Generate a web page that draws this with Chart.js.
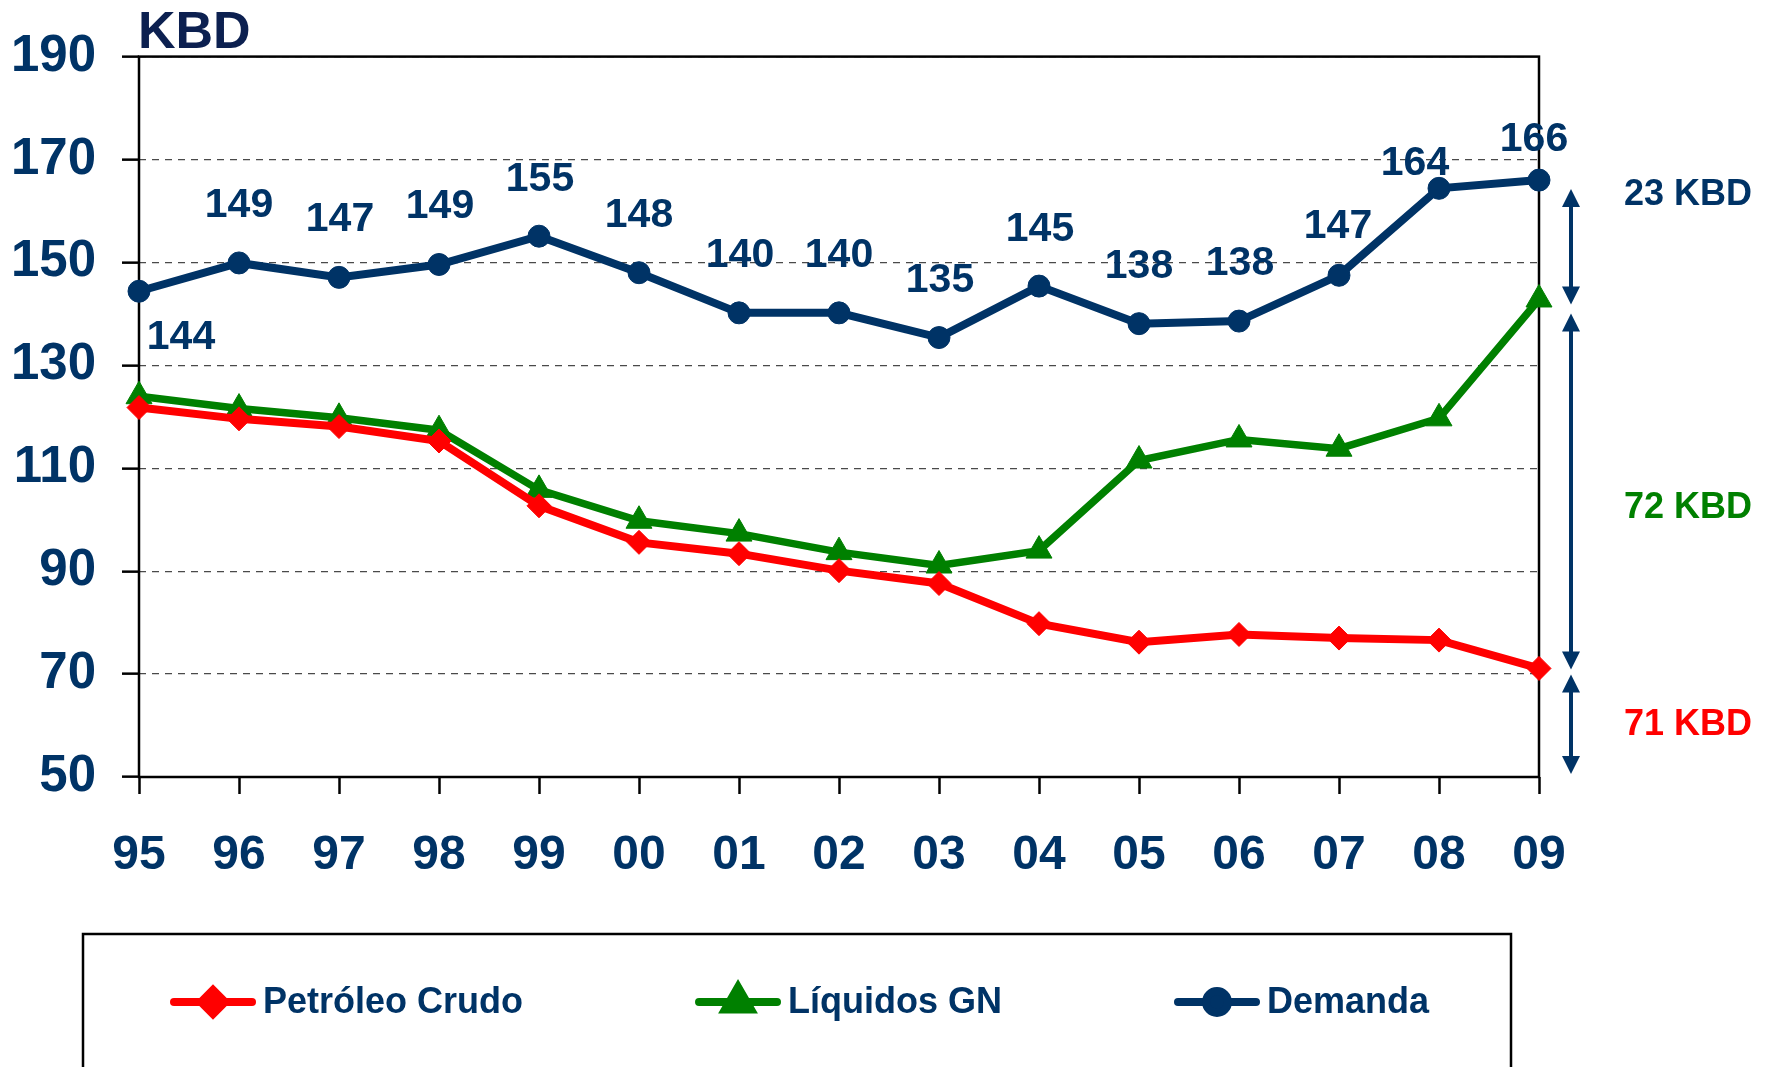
<!DOCTYPE html>
<html>
<head>
<meta charset="utf-8">
<title>KBD</title>
<script src="https://cdn.jsdelivr.net/npm/chart.js@4.4.0/dist/chart.umd.min.js"></script>
<style>
  html, body { margin: 0; padding: 0; background: #fff; }
  canvas { display: block; }
</style>
</head>
<body>
<canvas id="lineChart" width="1777" height="1067"></canvas>
<script>
// data
const years = ['95', '96', '97', '98', '99', '00', '01', '02', '03', '04', '05', '06', '07', '08', '09'];
const crudo = [121.8, 119.6, 118.1, 115.3, 102.7, 95.6, 93.4, 90.1, 87.6, 79.8, 76.2, 77.7, 77.0, 76.6, 71.1];
const liquidos = [124.0, 121.6, 119.8, 117.4, 105.8, 99.8, 97.3, 93.7, 91.1, 94.0, 111.5, 115.6, 113.8, 119.7, 142.8];
const demanda = [144.4, 149.9, 147.1, 149.6, 155.1, 148.0, 140.2, 140.2, 135.4, 145.4, 138.1, 138.6, 147.5, 164.4, 166.0];
const yTicks = [50, 70, 90, 110, 130, 150, 170, 190];
const kbdNotes = ['23 KBD', '72 KBD', '71 KBD'];

const navy = '#003366';
const fam = '"Liberation Sans", Arial, sans-serif';

// where each demand label sits relative to its point
const labelOffsets = [[42, 44], [0, -60], [1, -60], [1, -60], [1, -59], [0, -60], [1, -60], [0, -60],
  [1, -60], [1, -59], [0, -60], [1, -60], [-1, -51], [-24, -27], [-5, -43]];
const noteColors = [navy, '#008000', '#ff0000'];
const noteBaselines = [161.1, 100.4, 58.1];
const arrowPad = [[9, 5], [14, 1], [6, -3]];

function doubleArrow(ctx, x, y1, y2) {
  const head = 18, hw = 9;
  ctx.beginPath();
  ctx.moveTo(x, y1 + head - 2);
  ctx.lineTo(x, y2 - head + 2);
  ctx.stroke();
  ctx.beginPath();
  ctx.moveTo(x, y1); ctx.lineTo(x - hw, y1 + head); ctx.lineTo(x + hw, y1 + head);
  ctx.closePath(); ctx.fill();
  ctx.beginPath();
  ctx.moveTo(x, y2); ctx.lineTo(x - hw, y2 - head); ctx.lineTo(x + hw, y2 - head);
  ctx.closePath(); ctx.fill();
}

const extras = {
  id: 'extras',
  beforeDatasetsDraw(chart) {
    const { ctx, chartArea: a } = chart;
    ctx.save();
    ctx.strokeStyle = '#000';
    ctx.lineWidth = 2.5;
    ctx.strokeRect(a.left, a.top, a.right - a.left, a.bottom - a.top);
    ctx.restore();
  },
  afterDatasetsDraw(chart) {
    const { ctx, chartArea: a, scales } = chart;
    const y = scales.y;
    ctx.save();

    // unit title
    ctx.font = 'bold 52px ' + fam;
    ctx.fillStyle = '#0c2050';
    ctx.textAlign = 'left';
    ctx.textBaseline = 'alphabetic';
    ctx.fillText('KBD', a.left - 1, 48);

    // demand value labels
    ctx.font = 'bold 41px ' + fam;
    ctx.fillStyle = navy;
    ctx.textAlign = 'center';
    chart.getDatasetMeta(2).data.forEach((pt, i) => {
      const off = labelOffsets[i];
      ctx.fillText(String(Math.floor(demanda[i])), pt.x + off[0], pt.y + off[1] + 14);
    });

    // arrows on the right
    const last = years.length - 1;
    const spans = [[demanda[last], liquidos[last]], [liquidos[last], crudo[last]], [crudo[last], 50]];
    const ax = a.right + 32;
    ctx.strokeStyle = navy;
    ctx.fillStyle = navy;
    ctx.lineWidth = 4;
    spans.forEach((s, i) => {
      doubleArrow(ctx, ax, y.getPixelForValue(s[0]) + arrowPad[i][0], y.getPixelForValue(s[1]) + arrowPad[i][1]);
    });
    ctx.font = 'bold 36px ' + fam;
    ctx.textAlign = 'left';
    kbdNotes.forEach((t, i) => {
      ctx.fillStyle = noteColors[i];
      ctx.fillText(t, 1624, y.getPixelForValue(noteBaselines[i]));
    });

    // legend box
    ctx.strokeStyle = '#000';
    ctx.lineWidth = 2.5;
    ctx.strokeRect(83, 934, 1511 - 83, 200);
    let lx = 170;
    const ly = 1002;
    ctx.font = 'bold 36px ' + fam;
    chart.data.datasets.forEach(ds => {
      ctx.strokeStyle = ds.borderColor;
      ctx.fillStyle = ds.backgroundColor;
      ctx.lineWidth = 8;
      ctx.lineCap = 'round';
      ctx.beginPath();
      ctx.moveTo(lx + 4, ly);
      ctx.lineTo(lx + 82, ly);
      ctx.stroke();
      Chart.helpers.drawPoint(ctx, { pointStyle: ds.pointStyle, radius: ds.pointRadius, borderWidth: 1, rotation: 0 }, lx + 43, ly);
      ctx.fillStyle = navy;
      ctx.textBaseline = 'middle';
      ctx.fillText(ds.label, lx + 93, ly + 1);
      lx = lx + 93 + ctx.measureText(ds.label).width + 172;
    });
    ctx.restore();
  }
};

const ctxL = document.getElementById('lineChart').getContext('2d');
const lineChart = new Chart(ctxL, {
  type: 'line',
  data: {
    labels: years,
    datasets: [{
      label: 'Petróleo Crudo',
      data: crudo,
      borderColor: '#ff0000',
      backgroundColor: '#ff0000',
      borderWidth: 8,
      pointStyle: 'rectRot',
      pointRadius: 12,
      pointBorderWidth: 1,
      clip: false
    }, {
      label: 'Líquidos GN',
      data: liquidos,
      borderColor: '#008000',
      backgroundColor: '#008000',
      borderWidth: 7.5,
      pointStyle: 'triangle',
      pointRadius: 15,
      pointBorderWidth: 1,
      clip: false
    }, {
      label: 'Demanda',
      data: demanda,
      borderColor: navy,
      backgroundColor: navy,
      borderWidth: 8,
      pointStyle: 'circle',
      pointRadius: 11,
      pointBorderWidth: 1,
      clip: false
    }]
  },
  options: {
    responsive: false,
    animation: false,
    layout: { padding: { top: 55, right: 238, left: 0, bottom: 0 } },
    plugins: { legend: { display: false }, tooltip: { enabled: false } },
    scales: {
      x: {
        grid: { drawOnChartArea: false, drawTicks: true, tickLength: 17, tickWidth: 2.5, tickColor: '#000', color: '#000' },
        border: { display: false },
        ticks: { font: { family: fam, size: 48, weight: 'bold' }, color: navy, padding: 33, maxRotation: 0, autoSkip: false },
        afterFit(s) { s.height = 1067 - 777; }
      },
      y: {
        min: 50,
        max: 190,
        afterBuildTicks(s) { s.ticks = yTicks.map(v => ({ value: v })); },
        grid: { color: '#4a4a4a', lineWidth: 1.3, tickLength: 17, tickWidth: 2.5, tickColor: '#000', tickBorderDash: [] },
        border: { display: false, dash: [7, 6] },
        ticks: { font: { family: fam, size: 51, weight: 'bold' }, color: navy, padding: 26 },
        afterFit(s) { s.width = 139; }
      }
    }
  },
  plugins: [extras]
});
</script>
</body>
</html>
